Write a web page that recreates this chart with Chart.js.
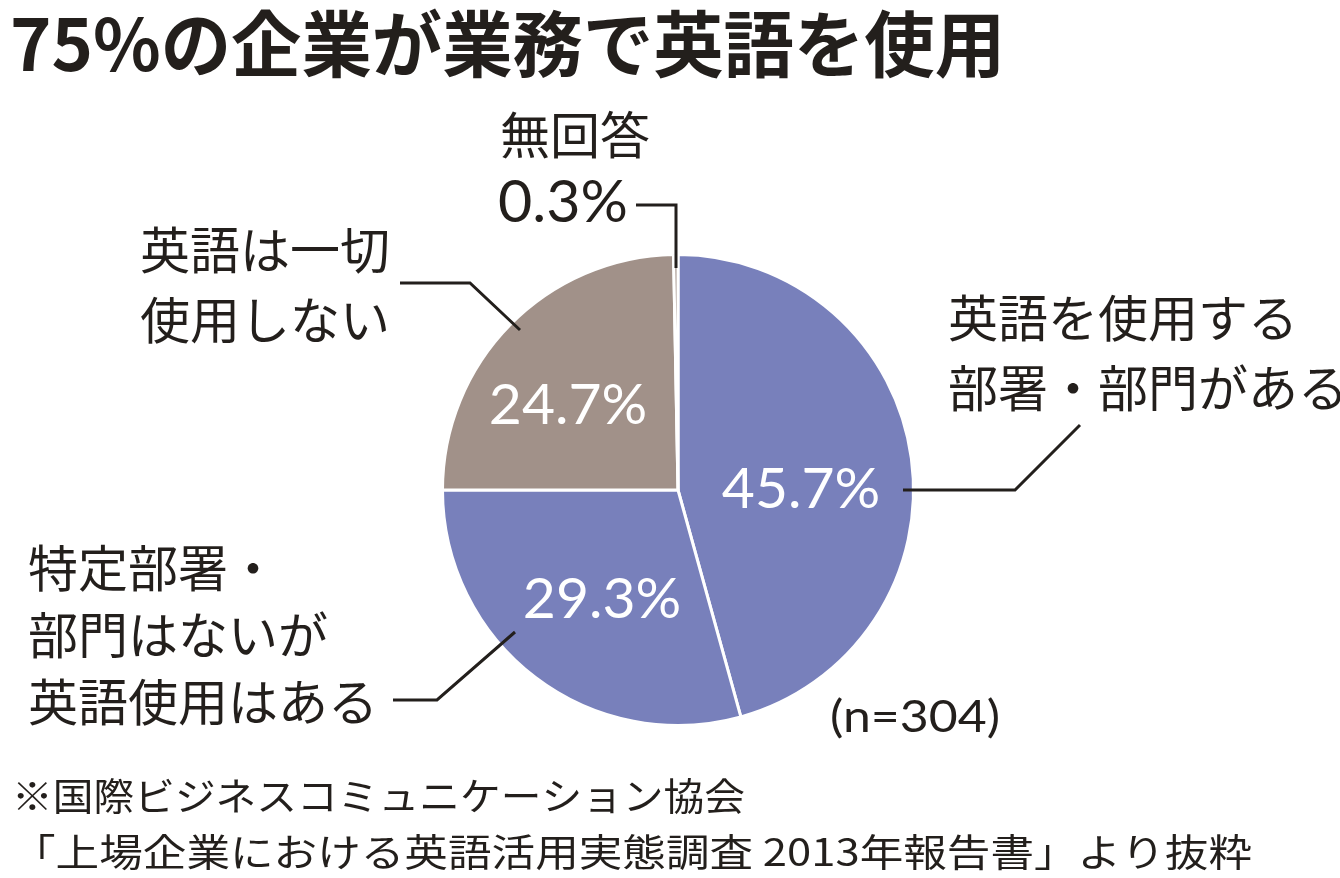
<!DOCTYPE html>
<html>
<head>
<meta charset="utf-8">
<script src="https://cdn.jsdelivr.net/npm/chart.js@4/dist/chart.umd.min.js"></script>
<style>
  html, body { margin: 0; padding: 0; background: #fff; }
  #wrap { width: 1340px; height: 878px; position: relative; }
</style>
</head>
<body>
<div id="wrap"><canvas id="myChart" width="1340" height="878"></canvas></div>
<script>
// data, clockwise from 12 o'clock
var categories = ['英語を使用する部署・部門がある', '特定部署・部門はないが英語使用はある', '英語は一切使用しない', '無回答'];
var shares = [45.7, 29.3, 24.7, 0.3];
var sliceColors = ['#7880bb', '#7880bb', '#a19189', '#a19189'];
var pctLabels = ['45.7%', '29.3%', '24.7%', '0.3%'];
var nLabel = '(n=304)';

var title = '75%の企業が業務で英語を使用';
var source1 = '※国際ビジネスコミュニケーション協会';
var source2 = '「上場企業における英語活用実態調査 2013年報告書」より抜粋';

var ink = '#231f1c';
var jp = '"Noto Sans CJK JP", "Noto Sans", sans-serif';
var num = 'Lato, "Noto Sans", sans-serif';

// outside callouts: text lines, text anchor, leader points (offsets from pie centre)
var callouts = [
    { lines: ['英語を使用する', '部署・部門がある'], x: 948, y: 318, lh: 70,
      leader: [[402, -65], [337, 0], [225, 0]] },
    { lines: ['特定部署・', '部門はないが', '英語使用はある'], x: 28, y: 568, lh: 67,
      leader: [[-285, 210], [-241, 210], [-163, 142]] },
    { lines: ['英語は一切', '使用しない'], x: 140, y: 250, lh: 70,
      leader: [[-278, -207], [-208, -207], [-158, -160]] },
    { lines: ['無回答'], x: 500, y: 135, lh: 70,
      leader: [[-42, -285], [-2, -285], [-2, -222]] }
];
// inside percentage labels (offsets from pie centre)
var insidePos = [[123, 0], [-76, 110], [-110, -84]];

function fitText(ctx, text, x, y, width) {
    var w = ctx.measureText(text).width;
    ctx.save();
    ctx.translate(x, y);
    ctx.scale(width / w, 1);
    ctx.fillText(text, 0, 0);
    ctx.restore();
}

var labelPlugin = {
    id: 'labels',
    afterDraw: function(chart) {
        var ctx = chart.ctx;
        var arc = chart.getDatasetMeta(0).data[0];
        var cx = arc.x, cy = arc.y;
        ctx.save();

        // title
        ctx.fillStyle = ink;
        ctx.textBaseline = 'middle';
        ctx.textAlign = 'left';
        ctx.font = 'bold 72px ' + jp;
        fitText(ctx, title, 10, 44, 995);

        // inside labels
        ctx.fillStyle = '#fff';
        ctx.textAlign = 'center';
        ctx.font = '400 57px ' + num;
        insidePos.forEach(function(p, i) {
            ctx.fillText(pctLabels[i], cx + p[0], cy + p[1]);
        });

        // callouts
        ctx.fillStyle = ink;
        ctx.strokeStyle = ink;
        ctx.lineWidth = 3;
        ctx.textAlign = 'left';
        callouts.forEach(function(c) {
            ctx.font = '400 50px ' + jp;
            c.lines.forEach(function(t, j) {
                ctx.fillText(t, c.x, c.y + j * c.lh);
            });
            ctx.beginPath();
            c.leader.forEach(function(p, j) {
                if (j === 0) ctx.moveTo(cx + p[0], cy + p[1]);
                else ctx.lineTo(cx + p[0], cy + p[1]);
            });
            ctx.stroke();
        });

        // 0.3% outside
        ctx.font = '400 58px ' + num;
        fitText(ctx, pctLabels[3], 498, 203, 130);

        // n
        ctx.font = '400 44px ' + num;
        fitText(ctx, nLabel, 830, 718, 170);

        // source
        ctx.font = '400 38px ' + jp;
        fitText(ctx, source1, 12, 796, 733);
        fitText(ctx, source2, 12, 852, 1240);

        ctx.restore();
    }
};

var ctx = document.getElementById('myChart');
var myPie = new Chart(ctx, {
    type: 'pie',
    data: {
        labels: categories,
        datasets: [{
            data: shares,
            backgroundColor: sliceColors,
            borderColor: '#ffffff',
            borderWidth: 3
        }]
    },
    options: {
        responsive: false,
        animation: false,
        layout: { padding: { left: 441, right: 425, top: 253, bottom: 151 } },
        plugins: {
            legend: { display: false },
            tooltip: { enabled: false }
        }
    },
    plugins: [labelPlugin]
});
</script>
</body>
</html>
